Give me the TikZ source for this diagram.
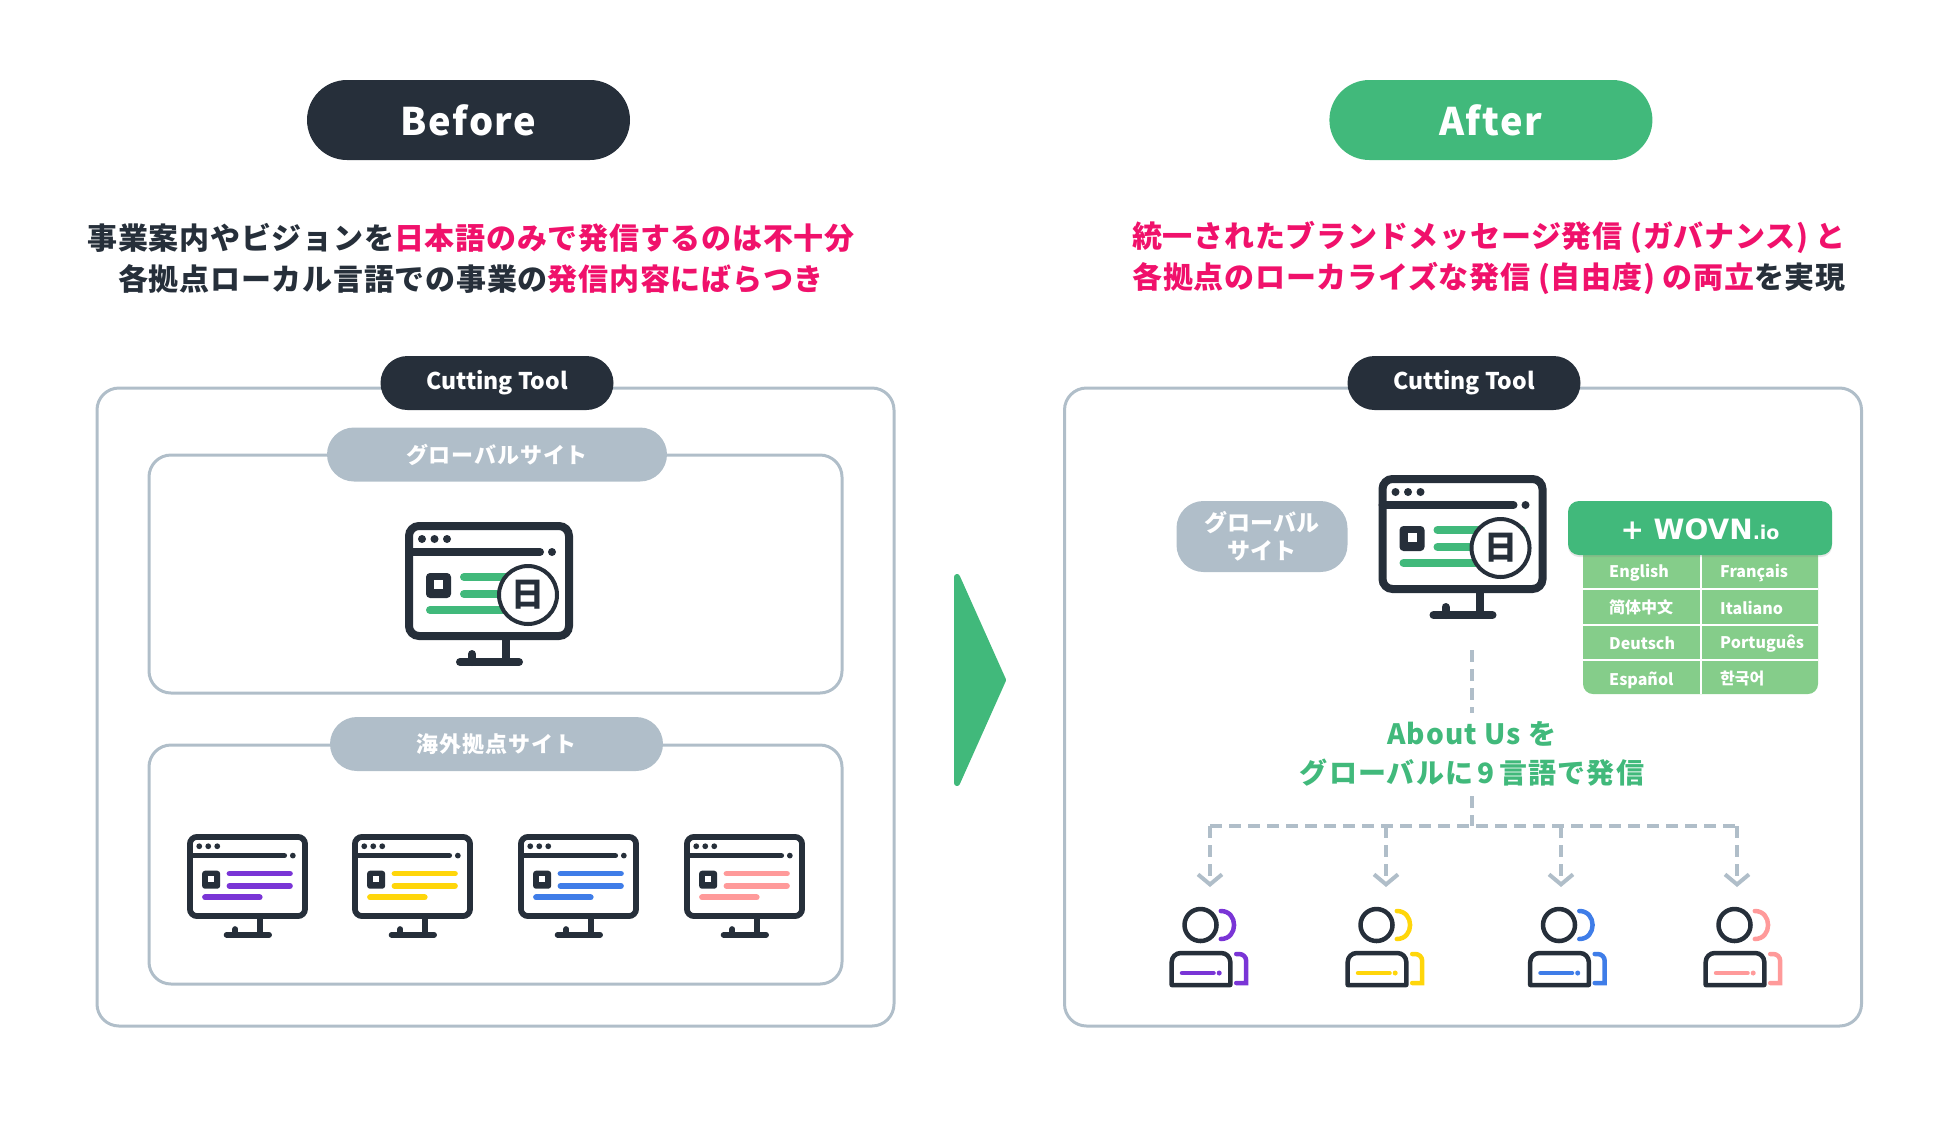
\documentclass[tikz,border=0pt]{standalone}
\usepackage{fontspec}
\setmainfont{Noto Sans CJK JP}
\newfontfamily\widejp[LetterSpace=2.5]{Noto Sans CJK JP}
\newfontfamily\pilljp[LetterSpace=4]{Noto Sans CJK JP}
\newfontfamily\schinese{Noto Sans CJK SC}
\newfontfamily\logofont{DejaVu Sans}
\usetikzlibrary{arrows.meta, positioning, shadows}

\definecolor{ink}{HTML}{262F3A}
\definecolor{mist}{HTML}{B0BEC9}
\definecolor{leaf}{HTML}{41B97B}
\definecolor{lang}{HTML}{85CD8A}
\definecolor{hot}{HTML}{F0116B}
\definecolor{violet}{HTML}{7A35D6}
\definecolor{sun}{HTML}{FFD60A}
\definecolor{sky}{HTML}{3F7DE8}
\definecolor{coral}{HTML}{FF9A9A}

% x y scale colour
\newcommand{\drawmonitor}[4]{
  \begin{scope}[shift={(#1,#2)}, scale=#3, line width=#3*8pt, line cap=round]
    \draw[ink, fill=white, rounded corners=10pt*#3] (4,4) rectangle (164,114);
    \fill[ink] (17,17) circle (4) (29.5,17) circle (4) (42,17) circle (4) (147,30) circle (4);
    \draw[ink] (4,30) -- (135,30);
    \fill[ink, rounded corners=4pt*#3] (21,51) rectangle (46,76);
    \fill[white] (29,58) rectangle (38,67);
    \draw[#4] (59,55) -- (143,55);
    \draw[#4] (59,72) -- (143,72);
    \draw[#4] (25,88) -- (101,88);
    \draw[ink, line cap=butt] (101,114) -- (101,140);
    \draw[ink] (55,140) -- (114,140);
    \draw[ink] (67,132) -- (67,140);
  \end{scope}
}
\newcommand{\drawperson}[3]{
  \begin{scope}[shift={(#1,#2)}, line width=4.5pt, line cap=round]
    \draw[ink] (31,18) circle (16);
    \draw[#3] (51.3,4) .. controls (69,4) and (69,32) .. (51.3,32);
    \draw[ink, line join=round] (2.2,78) [rounded corners=9pt] -- (2.2,46) -- (60.8,46) [sharp corners] -- (60.8,78) -- cycle;
    \draw[#3] (12.5,66) -- (44,66);
    \fill[#3] (49.7,66) circle (2.5);
    \draw[#3] (66.7,47) [rounded corners=7pt] -- (76.7,47) [sharp corners] -- (76.7,76) -- (66.7,76);
  \end{scope}
}

\begin{document}
\begin{tikzpicture}[
    x=1pt, y=-1pt,
    headpill/.style = {rounded corners=40pt, minimum width=323pt, minimum height=80pt, text=white,
      font=\pilljp\fontsize{38}{48}\selectfont\bfseries},
    toolpill/.style = {fill=ink, rounded corners=27pt, minimum width=233pt, minimum height=54pt, text=white,
      font=\fontsize{23}{29}\selectfont\bfseries},
    sitepill/.style = {fill=mist, rounded corners=27pt, minimum height=54pt, text=white,
      font=\pilljp\fontsize{22}{27}\selectfont\bfseries, align=center},
    frame/.style = {draw=mist, line width=3pt, rounded corners=22pt, inner sep=0pt},
    lead/.style = {text=ink, align=center, inner sep=0pt, font=\widejp\fontsize{30}{41}\selectfont\bfseries},
    dashline/.style = {draw=mist, line width=4pt, dash pattern=on 12pt off 7pt},
    langcell/.style = {text=white, anchor=west, inner sep=0pt, font=\fontsize{16}{20}\selectfont\bfseries},
  ]
  \useasboundingbox (0,0) rectangle (1950,1138);

  % before side
  \node[headpill, fill=ink] (before) at (468.5,120) {\raisebox{-1.5pt}{Before}};
  \node[lead] (leadleft) at (471,258) {事業案内やビジョンを\textcolor{hot}{日本語のみで発信するのは不十分}\\各拠点ローカル言語での事業の\textcolor{hot}{発信内容にばらつき}};
  \node[frame, minimum width=797pt, minimum height=638pt] (leftframe) at (495.5,707) {};
  \node[toolpill] (toolleft) at (497,383) {Cutting Tool};
  \node[frame, minimum width=693pt, minimum height=238pt] (globalbox) at (495.5,574) {};
  \node[sitepill, minimum width=340pt] (globalpill) at (497,454.5) {\raisebox{1pt}{グローバルサイト}};
  \node[frame, minimum width=693pt, minimum height=239pt] (localbox) at (495.5,864.5) {};
  \node[sitepill, minimum width=333pt] (localpill) at (496.5,744) {\raisebox{1pt}{海外拠点サイト}};
  \drawmonitor{405}{522}{1}{leaf}
  \node[draw=ink, fill=white, circle, line width=4pt, minimum size=58pt, inner sep=0pt, text=ink,
    font=\fontsize{33}{33}\selectfont\bfseries] (badgeleft) at (528,595) {日};
  \drawmonitor{187}{834}{0.72}{violet}
  \drawmonitor{352}{834}{0.72}{sun}
  \drawmonitor{518}{834}{0.72}{sky}
  \drawmonitor{684}{834}{0.72}{coral}

  \fill[leaf, draw=leaf, line width=6pt, line join=round] (957,577) -- (1003,680) -- (957,783) -- cycle;

  % after side
  \node[headpill, fill=leaf, right=699pt of before] (after) {\raisebox{-1.5pt}{After}};
  \node[lead] (leadright) at (1489,258) {\textcolor{hot}{統一されたブランドメッセージ発信 (ガバナンス) と}\\\textcolor{hot}{各拠点のローカライズな発信 (自由度) の両立}を実現};
  \node[frame, minimum width=797pt, minimum height=638pt] (rightframe) at (1463,707) {};
  \node[toolpill] (toolright) at (1464,383) {Cutting Tool};
  \node[sitepill, minimum width=171pt, minimum height=71pt, font=\fontsize{23}{28}\selectfont\bfseries] (globalmini) at (1262,536.5) {グローバル\\サイト};
  \drawmonitor{1378.5}{475}{1}{leaf}
  \node[draw=ink, fill=white, circle, line width=4pt, minimum size=58pt, inner sep=0pt, text=ink,
    font=\fontsize{33}{33}\selectfont\bfseries] (badgeright) at (1500.5,548) {日};

  \fill[lang, rounded corners=10pt] (1583,540) rectangle (1818,694);
  \draw[white, line width=2pt] (1701,555) -- (1701,694);
  \foreach \rowy in {589,625,660} \draw[white, line width=2pt] (1583,\rowy) -- (1818,\rowy);
  \node[fill=leaf, rounded corners=11pt, minimum width=264pt, minimum height=54pt, drop shadow={opacity=0.2, shadow xshift=0pt, shadow yshift=-2pt}] (wovn) at (1700,528) {};
  \node[text=white, inner sep=0pt, font=\logofont\bfseries\fontsize{28}{32}\selectfont] (wovnlabel) at (1700,529) {+ WOVN{\fontsize{19}{20}\selectfont .io}};
  \node[langcell] (en) at (1609,573) {English};
  \node[langcell] (fr) at (1720,573) {Français};
  \node[langcell, font=\schinese\fontsize{16}{20}\selectfont\bfseries] (zh) at (1609,607.5) {简体中文};
  \node[langcell] (it) at (1720,607.5) {Italiano};
  \node[langcell] (de) at (1609,643.5) {Deutsch};
  \node[langcell] (pt) at (1720,643.5) {Português};
  \node[langcell] (es) at (1609,680) {Español};
  \node[langcell] (ko) at (1720,679) {한국어};

  \node[text=leaf, align=center, inner sep=0pt, font=\pilljp\fontsize{28}{39}\selectfont\bfseries] (aboutus) at (1472,754) {About Us を\\グローバルに\,9\,言語で発信};

  \coordinate (stemtop) at (1472,650);
  \coordinate (stemend) at (1472,713);
  \coordinate (stemlow) at (1472,796);
  \coordinate (bus) at (1472,826);
  \coordinate (busleft) at (1210,826);
  \coordinate (busright) at (1737,826);
  \draw[dashline] (stemtop) -- (stemend);
  \draw[dashline] (stemlow) -- (bus);
  \draw[dashline] (busleft) -- (busright);
  \foreach \dropx/\dropname in {1210/a,1386/b,1561/c,1737/d} {
    \coordinate (drop\dropname) at (\dropx,826);
    \coordinate (tip\dropname) at (\dropx,887);
    \draw[dashline, -{Straight Barb[length=10pt, width=24pt]}] (drop\dropname) -- (tip\dropname);
  }

  \drawperson{1169.5}{907}{violet}
  \drawperson{1345.5}{907}{sun}
  \drawperson{1528}{907}{sky}
  \drawperson{1703.5}{907}{coral}
\end{tikzpicture}
\end{document}
